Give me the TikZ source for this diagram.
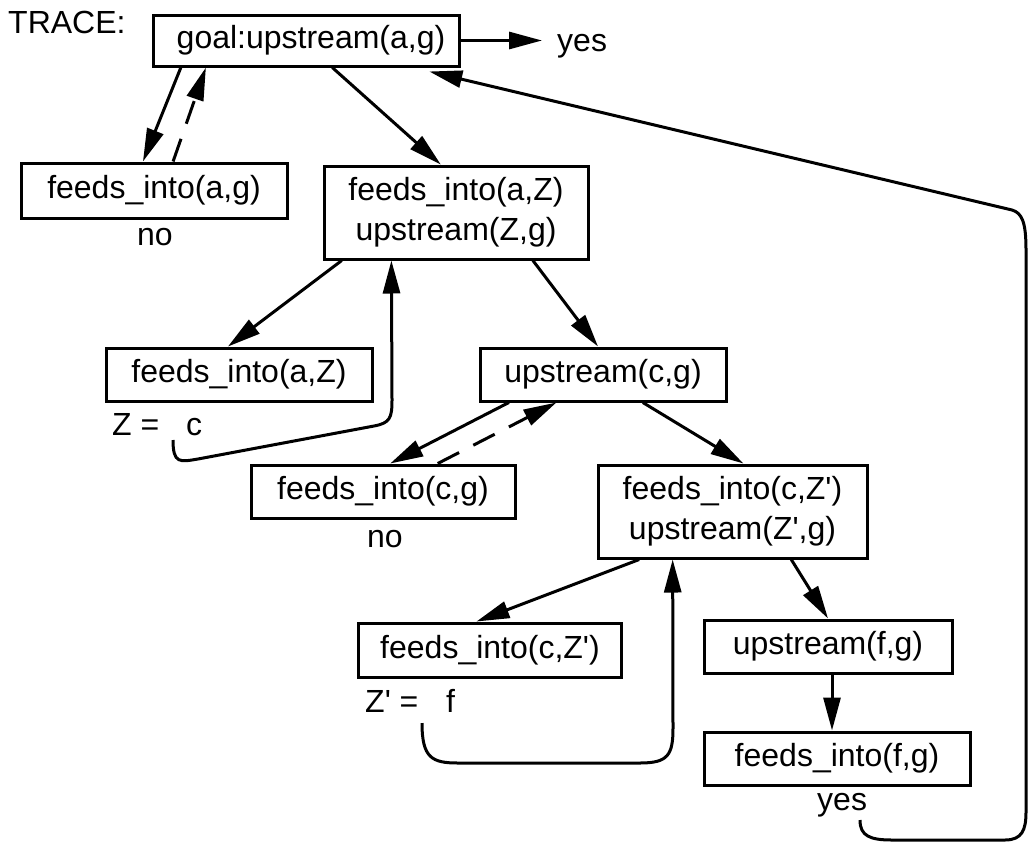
\documentclass[tikz,border=0pt]{standalone}
\usepackage{fontspec}
\newfontfamily\lsans{Liberation Sans}
\usetikzlibrary{arrows.meta,calc}
\begin{document}
\begin{tikzpicture}[x=1pt,y=-1pt,
  every node/.style={font=\lsans\fontsize{32}{40}\selectfont},
  box/.style={draw,line width=3pt,inner sep=0pt,align=center},
  lab/.style={inner sep=0pt,anchor=base west},
  conn/.style={line width=3pt,-{Triangle[length=33pt,width=17pt]}},
  dashconn/.style={conn,dash pattern=on 24pt off 16pt}]
\useasboundingbox (0,0) rectangle (1032,854);
% nodes
\node[lab] (trace) at (8,33) {TRACE:};
\node[box,minimum width=306pt,minimum height=51pt] (goal) at (306,40.5) {\hspace*{10pt}goal:upstream(a,g)};
\node[lab] (yes1) at (557,51) {yes};
\node[box,minimum width=266pt,minimum height=55pt] (fiag) at (154,190.5) {feeds\_into(a,g)};
\node[lab] (no1) at (137,245) {no};
\node[box,minimum width=264pt,minimum height=93pt] (bigA) at (456,212.5) {feeds\_into(a,Z)\\upstream(Z,g)};
\node[box,minimum width=266pt,minimum height=53pt] (fiaZ) at (239,374.5) {feeds\_into(a,Z)};
\node[lab] (zeq) at (112,435) {Z =};
\node[lab] (zc) at (186,435) {c};
\node[box,minimum width=246pt,minimum height=53pt] (ucg) at (603,374.5) {upstream(c,g)};
\node[box,minimum width=264pt,minimum height=53pt] (ficg) at (383,491.5) {feeds\_into(c,g)};
\node[lab] (no2) at (367,547) {no};
\node[box,minimum width=269pt,minimum height=93pt] (bigC) at (732.5,511.5) {feeds\_into(c,Z')\\upstream(Z',g)};
\node[box,minimum width=263pt,minimum height=54pt] (ficZ) at (490,650) {feeds\_into(c,Z')};
\node[lab] (zpeq) at (365,712) {Z' =};
\node[lab] (zpf) at (446,712) {f};
\node[box,minimum width=248pt,minimum height=53pt] (ufg) at (828,646.5) {upstream(f,g)};
\node[box,minimum width=266pt,minimum height=53pt] (fifg) at (837,758.5) {feeds\_into(f,g)};
\node[lab] (yes2) at (817,810) {yes};
% free ends of the return curves and helper points
\coordinate (r1) at (173,440);
\coordinate (r2) at (422,723);
\coordinate (r3) at (860,820);
\coordinate (u1) at ($(ufg.south)+(4,0)$);
% connectors
\draw[conn] (goal.east) -- ($(goal.east -| yes1.west)+(-15,0)$);
\draw[conn] ($(goal.south west)!0.095!(goal.south east)$) -- ($(fiag.north west)!0.459!(fiag.north east)$);
\draw[dashconn] ($(fiag.north west)!0.571!(fiag.north east)$) -- ($(goal.south west)!0.176!(goal.south east)$);
\draw[conn] ($(goal.south west)!0.585!(goal.south east)$) -- ($(bigA.north west)!0.443!(bigA.north east)$);
\draw[conn] ($(bigA.south west)!0.072!(bigA.south east)$) -- ($(fiaZ.north west)!0.459!(fiaZ.north east)$);
\draw[conn] (r1) .. controls (173,464) and (180,462) .. (198,459) -- (374,426)
  .. controls (390,423) and (392,418) .. (392,400) -- ($(bigA.south west)!0.258!(bigA.south east)$);
\draw[conn] ($(bigA.south west)!0.788!(bigA.south east)$) -- ($(ucg.north west)!0.48!(ucg.north east)$);
\draw[conn] ($(ucg.south west)!0.122!(ucg.south east)$) -- ($(ficg.north west)!0.527!(ficg.north east)$);
\draw[dashconn] ($(ficg.north west)!0.705!(ficg.north east)$) -- ($(ucg.south west)!0.313!(ucg.south east)$);
\draw[conn] ($(ucg.south west)!0.66!(ucg.south east)$) -- ($(bigC.north west)!0.54!(bigC.north east)$);
\draw[conn] ($(bigC.south west)!0.157!(bigC.south east)$) -- ($(ficZ.north west)!0.449!(ficZ.north east)$);
\draw[conn] (r2) .. controls (422,758) and (432,763) .. (458,763) -- (640,763)
  .. controls (668,763) and (673,755) .. (673,728) -- ($(bigC.south west)!0.28!(bigC.south east)$);
\draw[conn] ($(bigC.south west)!0.716!(bigC.south east)$) -- (ufg.north);
\draw[conn] (u1) -- (u1 |- fifg.north);
\draw[conn] (r3) .. controls (860,836) and (870,840) .. (892,840) -- (1005,840)
  .. controls (1022,840) and (1026,830) .. (1026,812) -- (1026,250)
  .. controls (1026,222) and (1022,213) .. (1012,210) -- ($(goal.south west)!0.899!(goal.south east)+(0,4)$);
\end{tikzpicture}
\end{document}
